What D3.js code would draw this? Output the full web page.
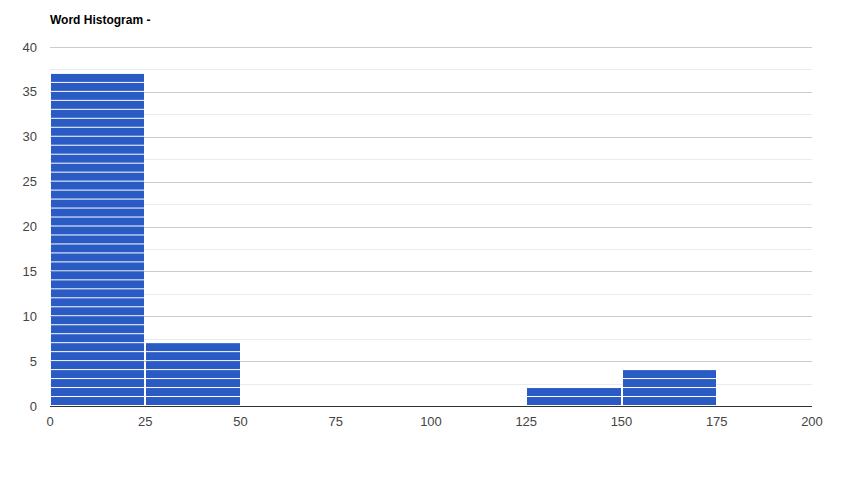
<!DOCTYPE html>
<html><head><meta charset="utf-8">
<script src="https://cdn.jsdelivr.net/npm/d3@7"></script>
<style>body{margin:0;background:#fff}svg{display:block}</style>
</head><body>
<svg id="c" width="853" height="480"></svg>
<script>
const title = "Word Histogram -";
const binStarts = [0, 25, 125, 150];
const binCounts = [37, 7, 2, 4];
const binWidth = 25;
const xTicks = [0, 25, 50, 75, 100, 125, 150, 175, 200];
const yTicks = [0, 5, 10, 15, 20, 25, 30, 35, 40];
const yMinor = [2.5, 7.5, 12.5, 17.5, 22.5, 27.5, 32.5, 37.5];

const svg = d3.select("#c");
const x = d3.scaleLinear().domain([0, 200]).range([50, 812]);
const y = d3.scaleLinear().domain([0, 40]).range([406, 47]);

svg.append("text").attr("x", 50).attr("y", 24)
  .attr("font-family", "Arial, Liberation Sans, sans-serif").attr("font-size", 12)
  .attr("font-weight", "bold").attr("fill", "#000").text(title);

svg.append("g").selectAll("line").data(yMinor).join("line")
  .attr("x1", 50).attr("x2", 812).attr("y1", d => Math.round(y(d)) + 0.5).attr("y2", d => Math.round(y(d)) + 0.5)
  .attr("stroke", "#ebebeb");
svg.append("g").selectAll("line").data(yTicks.filter(d => d > 0)).join("line")
  .attr("x1", 50).attr("x2", 812).attr("y1", d => Math.round(y(d)) + 0.5).attr("y2", d => Math.round(y(d)) + 0.5)
  .attr("stroke", "#cccccc");

// items
const items = [];
binStarts.forEach((s, i) => { for (let k = 0; k < binCounts[i]; k++) items.push({ s, k }); });
svg.append("g").selectAll("rect").data(items).join("rect")
  .attr("x", d => Math.round(x(d.s)) + 1)
  .attr("width", d => Math.round(x(d.s + binWidth)) - Math.round(x(d.s)) - 2)
  .attr("y", d => y(d.k + 1))
  .attr("height", d => y(d.k) - y(d.k + 1) - 1)
  .attr("fill", "#2a5bc4");

svg.append("line").attr("x1", 50).attr("x2", 812).attr("y1", 406.5).attr("y2", 406.5)
  .attr("stroke", "#333").attr("stroke-width", 1);

svg.append("g").selectAll("text").data(yTicks).join("text")
  .attr("x", 37).attr("y", d => y(d) + 4.5).attr("text-anchor", "end")
  .attr("font-family", "Arial, Liberation Sans, sans-serif").attr("font-size", 13).attr("fill", "#444")
  .text(d => d);
svg.append("g").selectAll("text").data(xTicks).join("text")
  .attr("x", d => x(d)).attr("y", 426).attr("text-anchor", "middle")
  .attr("font-family", "Arial, Liberation Sans, sans-serif").attr("font-size", 13).attr("fill", "#444")
  .text(d => d);
</script>
</body></html>
